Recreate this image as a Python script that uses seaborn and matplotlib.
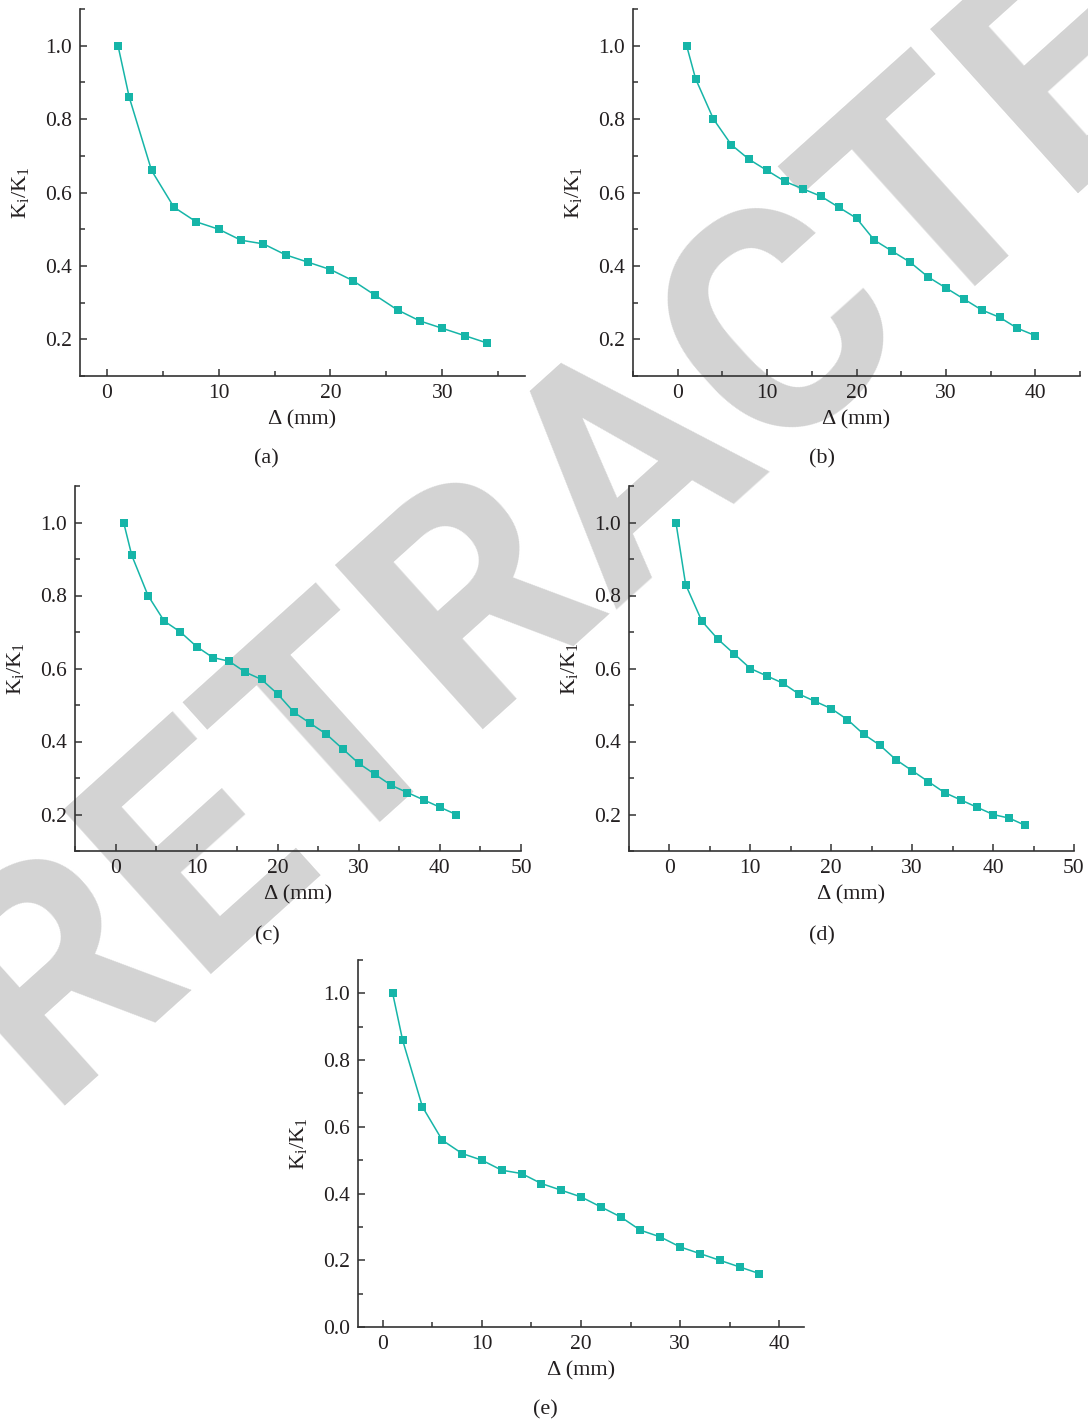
import seaborn as sns
import matplotlib.pyplot as plt
from matplotlib.ticker import MultipleLocator

# displacement (mm) and stiffness ratio Ki/K1 for each case
delta_a = [1, 2, 4, 6, 8, 10, 12, 14, 16, 18, 20, 22, 24, 26, 28, 30, 32, 34]
ratio_a = [1.0, 0.86, 0.66, 0.56, 0.52, 0.50, 0.47, 0.46, 0.43, 0.41, 0.39,
           0.36, 0.32, 0.28, 0.25, 0.23, 0.21, 0.19]

delta_b = [1, 2, 4, 6, 8, 10, 12, 14, 16, 18, 20, 22, 24, 26, 28, 30, 32, 34,
           36, 38, 40]
ratio_b = [1.0, 0.91, 0.80, 0.73, 0.69, 0.66, 0.63, 0.61, 0.59, 0.56, 0.53,
           0.47, 0.44, 0.41, 0.37, 0.34, 0.31, 0.28, 0.26, 0.23, 0.21]

delta_c = [1, 2, 4, 6, 8, 10, 12, 14, 16, 18, 20, 22, 24, 26, 28, 30, 32, 34,
           36, 38, 40, 42]
ratio_c = [1.0, 0.91, 0.80, 0.73, 0.70, 0.66, 0.63, 0.62, 0.59, 0.57, 0.53,
           0.48, 0.45, 0.42, 0.38, 0.34, 0.31, 0.28, 0.26, 0.24, 0.22, 0.20]

delta_d = [0.8, 2, 4, 6, 8, 10, 12, 14, 16, 18, 20, 22, 24, 26, 28, 30, 32, 34,
           36, 38, 40, 42, 44]
ratio_d = [1.0, 0.83, 0.73, 0.68, 0.64, 0.60, 0.58, 0.56, 0.53, 0.51, 0.49,
           0.46, 0.42, 0.39, 0.35, 0.32, 0.29, 0.26, 0.24, 0.22, 0.20, 0.19, 0.17]

delta_e = [1, 2, 4, 6, 8, 10, 12, 14, 16, 18, 20, 22, 24, 26, 28, 30, 32, 34,
           36, 38]
ratio_e = [1.0, 0.86, 0.66, 0.56, 0.52, 0.50, 0.47, 0.46, 0.43, 0.41, 0.39,
           0.36, 0.33, 0.29, 0.27, 0.24, 0.22, 0.20, 0.18, 0.16]

captions = ['(a)', '(b)', '(c)', '(d)', '(e)']

sns.set_style("ticks")
plt.rcParams['font.family'] = ['Liberation Serif', 'DejaVu Serif']
plt.rcParams['mathtext.fontset'] = 'custom'
plt.rcParams['mathtext.rm'] = 'Liberation Serif'
plt.rcParams['mathtext.it'] = 'Liberation Serif:italic'

W, H = 1088, 1422
fig = plt.figure(figsize=(W / 100, H / 100), dpi=100)
fig.patch.set_facecolor('white')

# watermark, behind the plots
fig.text(692 / W, 1 - 524 / H, 'RETRACTED', rotation=42, rotation_mode='anchor',
         ha='center', va='baseline', fontsize=223, fontweight='bold',
         family=['Roboto', 'Liberation Sans', 'DejaVu Sans'], color='#d3d3d3',
         zorder=-1)

def box(l, r, t, b):
    return [l / W, 1 - b / H, (r - l) / W, (b - t) / H]

panels = [
    (delta_a, ratio_a, box(80, 525, 9, 376), (-2.4, 37.4), (0.1, 1.1), (266, 459)),
    (delta_b, ratio_b, box(633, 1080, 9, 376), (-5, 45), (0.1, 1.1), (822, 459)),
    (delta_c, ratio_c, box(75, 521, 486, 851), (-5, 50), (0.1, 1.1), (267, 936)),
    (delta_d, ratio_d, box(629, 1074, 486, 851), (-5, 50), (0.1, 1.1), (822, 936)),
    (delta_e, ratio_e, box(358, 804, 960, 1327), (-2.5, 42.5), (0.0, 1.1), (545, 1410)),
]

teal = '#16b5a8'
ink = '#231f20'

for (x, y, pos, xlim, ylim, cap), name in zip(panels, captions):
    ax = fig.add_axes(pos)
    ax.set_facecolor('none')
    sns.lineplot(x=x, y=y, ax=ax, color=teal, linewidth=1.1, marker='s',
                 markersize=6, markeredgewidth=0)
    ax.set_xlim(*xlim)
    ax.set_ylim(*ylim)
    ax.xaxis.set_major_locator(MultipleLocator(10))
    ax.xaxis.set_minor_locator(MultipleLocator(5))
    ax.yaxis.set_major_locator(MultipleLocator(0.2))
    ax.yaxis.set_minor_locator(MultipleLocator(0.1))
    ax.tick_params(which='both', direction='in', color='#333333', width=1.1,
                   labelsize=15.5, labelcolor=ink, pad=6)
    ax.tick_params(which='major', length=5)
    ax.tick_params(which='minor', length=3.5)
    for side in ['top', 'right']:
        ax.spines[side].set_visible(False)
    for side in ['left', 'bottom']:
        ax.spines[side].set_color('#333333')
        ax.spines[side].set_linewidth(1.2)
    ax.set_xlabel('Δ (mm)', fontsize=16, color=ink, labelpad=5)
    ax.set_ylabel(r'$\mathrm{K_i/K_1}$', fontsize=16, color=ink)
    ax.yaxis.set_label_coords(-0.11, 0.5)
    fig.text(cap[0] / W, 1 - cap[1] / H, name, ha='center', va='center',
             fontsize=16, color=ink)

fig.savefig('out.png', dpi=100, facecolor='white')
